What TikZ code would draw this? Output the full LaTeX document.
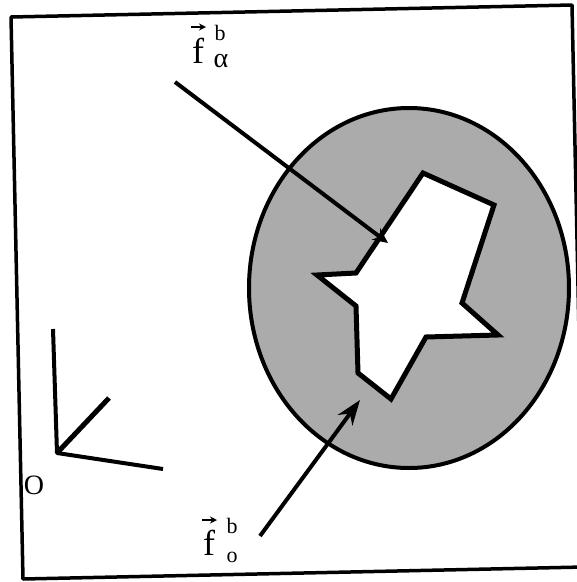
\documentclass[tikz,border=0pt]{standalone}
\usepackage{fontspec}
\setmainfont{Liberation Serif}
\usetikzlibrary{arrows.meta}

\begin{document}
\begin{tikzpicture}[x=1pt, y=-1pt, line join=round,
    ink/.style={line width=4pt},
    big/.style={font=\fontsize{36}{36}\selectfont, inner sep=0pt, anchor=base},
    small/.style={font=\fontsize{22}{22}\selectfont, inner sep=0pt, anchor=base},
    vecbar/.style={line width=2pt, -{Stealth[length=7pt,width=7pt]}}]
    \clip (0,0) rectangle (577,582);
    \fill[white] (0,0) rectangle (577,582);

    % frame (scan is a bit skewed)
    \coordinate (TL) at (11,17);
    \coordinate (TR) at (572,5);
    \coordinate (BR) at (584,567);
    \coordinate (BL) at (23,579);
    \draw[line width=3.5pt] (TL) -- (TR) -- (BR) -- (BL) -- cycle;

    % body with the hole
    \coordinate (C) at (409,288);
    \draw[ink, fill=black!33] (C) ellipse [x radius=160pt, y radius=180pt];

    \coordinate (P1) at (423,173);
    \coordinate (P2) at (494,205);
    \coordinate (P3) at (462,303);
    \coordinate (P4) at (498,335);
    \coordinate (P5) at (426,337);
    \coordinate (P6) at (391,399);
    \coordinate (P7) at (358,373);
    \coordinate (P8) at (356,306);
    \coordinate (P9) at (317,275);
    \coordinate (P10) at (356,273);
    \draw[line width=5pt, line join=miter, fill=white]
        (P1) -- (P2) -- (P3) -- (P4) -- (P5) -- (P6) -- (P7) -- (P8) -- (P9) -- (P10) -- cycle;

    % forces
    \coordinate (At) at (175,82);
    \coordinate (Ah) at (388,243);
    \draw[ink, -{Stealth[length=15pt,width=14pt]}] (At) -- (Ah);
    \coordinate (Bt) at (260,536);
    \coordinate (Bh) at (360,400);
    \draw[ink, -{Stealth[length=25pt,width=18pt]}] (Bt) -- (Bh);

    % frame axes
    \coordinate (O) at (57,453);
    \coordinate (X1) at (53,329);
    \coordinate (X2) at (109,398);
    \coordinate (X3) at (163,469);
    \draw[ink] (X1) -- (O) -- (X3);
    \draw[line width=5pt] (O) -- (X2);
    \node[font=\fontsize{28}{28}\selectfont, inner sep=0pt] (orig) at (34,485) {O};

    % labels
    \node[big] (fa) at (198,63) {f};
    \draw[vecbar] ([shift={(-7,-36)}]fa.base) -- ([shift={(8,-36)}]fa.base);
    \node[small] (fab) at (220,40) {b};
    \node[font=\fontsize{28}{28}\selectfont, inner sep=0pt, anchor=base] (faa) at (221,67) {α};

    \node[big] (fo) at (209,555) {f};
    \draw[vecbar] ([shift={(-7,-35)}]fo.base) -- ([shift={(8,-35)}]fo.base);
    \node[small] (fob) at (232,533) {b};
    \node[small] (foo) at (232,562) {o};
\end{tikzpicture}
\end{document}
